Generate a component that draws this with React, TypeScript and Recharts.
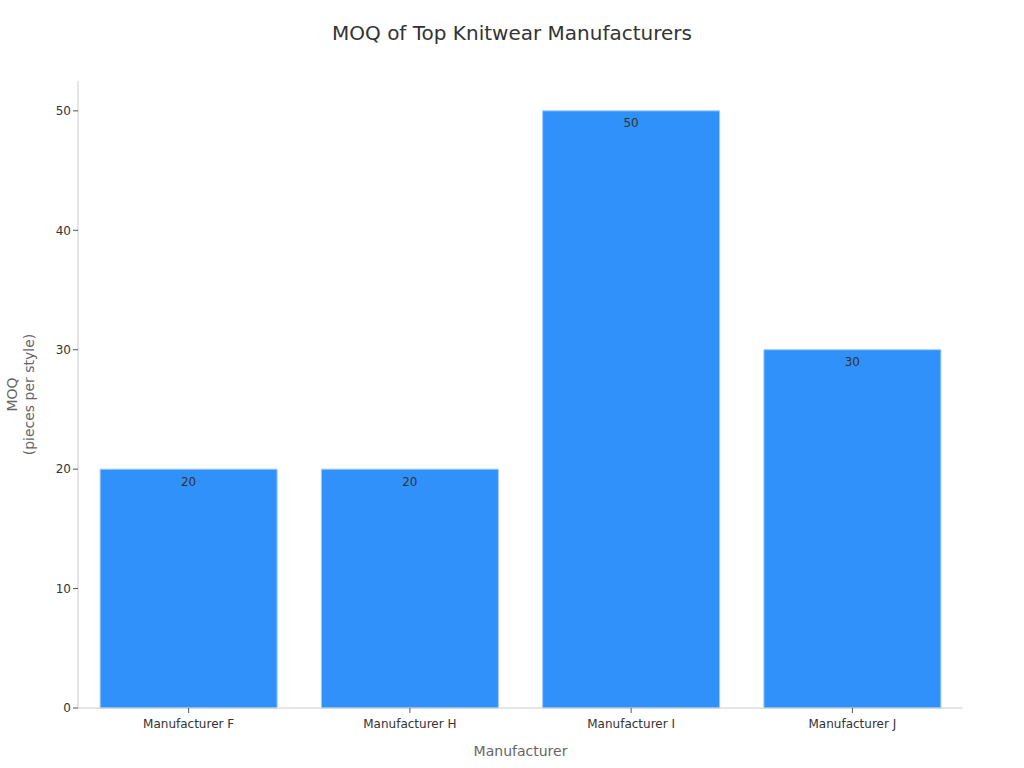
import React from "react";
import { BarChart, Bar, XAxis, YAxis, LabelList, Label } from "recharts";

const manufacturers = ["Manufacturer F", "Manufacturer H", "Manufacturer I", "Manufacturer J"];
const moqValues = [20, 20, 50, 30];
const yTicks = [0, 10, 20, 30, 40, 50];

const data = manufacturers.map((name, i) => ({ name, moq: moqValues[i] }));

const FONT = "DejaVu Sans, sans-serif";

export default function App() {
  return (
    <div style={{ position: "absolute", left: 0, top: 0, width: 1024, height: 768, background: "#fff", fontFamily: FONT }}>
      <div
        style={{
          position: "absolute",
          top: 21,
          left: 0,
          width: 1024,
          textAlign: "center",
          fontSize: 20,
          color: "#333",
        }}
      >
        MOQ of Top Knitwear Manufacturers
      </div>
      <BarChart
        width={1024}
        height={768}
        data={data}
        margin={{ top: 81, right: 61, left: 18, bottom: 29 }}
        barCategoryGap="10%"
      >
        <XAxis
          dataKey="name"
          height={31}
          axisLine={{ stroke: "#ccc" }}
          tickLine={{ stroke: "#555" }}
          tickSize={5}
          tickMargin={6}
          tick={{ fill: "#333", fontSize: 12, fontFamily: FONT }}
        >
          <Label value="Manufacturer" position="bottom" offset={0} dy={7} fill="#666" fontSize={14} fontFamily={FONT} />
        </XAxis>
        <YAxis
          width={60}
          domain={[0, 52.5]}
          ticks={yTicks}
          axisLine={{ stroke: "#ccc" }}
          tickLine={{ stroke: "#555" }}
          tickSize={5}
          tick={{ fill: "#333", fontSize: 12, fontFamily: FONT }}
          label={(props: any) => {
            const vb = props.viewBox;
            const cy = vb.y + vb.height / 2;
            return (
              <g>
                <text x={17} y={cy} transform={`rotate(-90, 17, ${cy})`} textAnchor="middle" fill="#666" fontSize={14} fontFamily={FONT}>
                  <tspan x={17} dy={0}>MOQ</tspan>
                  <tspan x={17} dy={17}>(pieces per style)</tspan>
                </text>
              </g>
            );
          }}
        />
        <Bar dataKey="moq" fill="#2f91f9" stroke="#9ccbfb" strokeWidth={1} isAnimationActive={false}>
          <LabelList dataKey="moq" position="insideTop" offset={8} fill="#333" fontSize={12} fontFamily={FONT} />
        </Bar>
      </BarChart>
    </div>
  );
}
